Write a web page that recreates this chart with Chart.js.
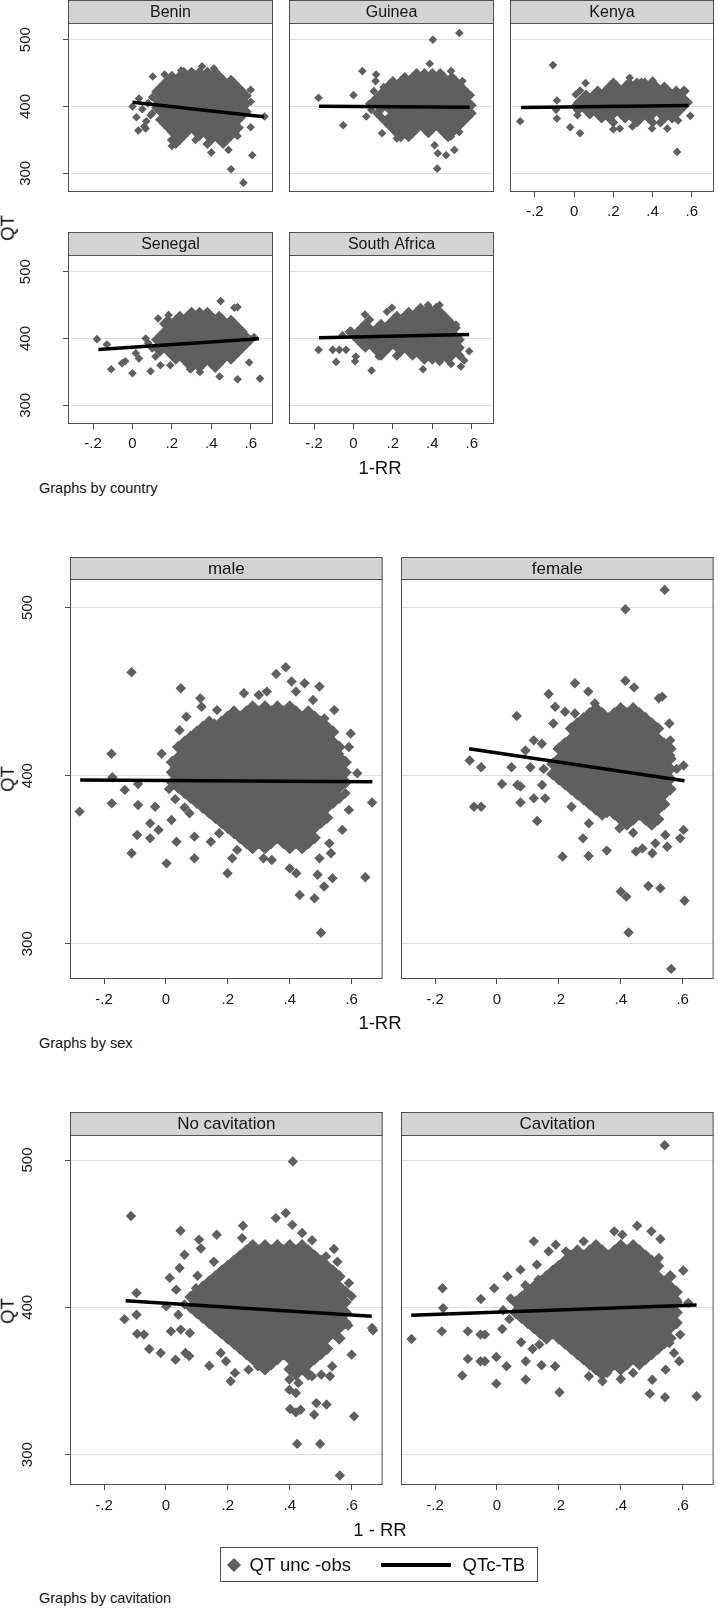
<!DOCTYPE html>
<html>
<head>
<meta charset="utf-8">
<title>QT against 1-RR</title>
<script src="https://cdn.jsdelivr.net/npm/chart.js@4.4.1/dist/chart.umd.min.js"></script>
<style>
  html, body { margin: 0; padding: 0; background: #fff; }
  #page { position: relative; width: 718px; height: 1608px; overflow: hidden; font-family: "Liberation Sans", Arial, sans-serif; color: #111; }
  #page canvas { position: absolute; }
  .txt { position: absolute; white-space: nowrap; line-height: 1; }
</style>
</head>
<body>
<div id="page"></div>
<script>
// Axis ticks
const xTickValues = [-0.2, 0, 0.2, 0.4, 0.6];
const xTickLabels = ["-.2", "0", ".2", ".4", ".6"];
const yTickValues = [300, 400, 500];
const yTickLabels = ["300", "400", "500"];

// Panel titles
const countryNames = ["Benin", "Guinea", "Kenya", "Senegal", "South Africa"];
const sexNames = ["male", "female"];
const cavitationNames = ["No cavitation", "Cavitation"];

// ---- QT unc -obs points ----
// dense cloud as rows: [QT, [1-RR values]]; loose points as [1-RR, QT]

const beninCore = [
  [452, [.26, .30, .34, .38, .42]],
  [446, [.20, .24, .28, .32, .36, .40, .44]],
  [440, [.18, .22, .26, .30, .34, .38, .42, .46, .50]],
  [434, [.16, .20, .24, .28, .32, .36, .40, .44, .48, .52]],
  [428, [.14, .18, .22, .26, .30, .34, .38, .42, .46, .50, .54]],
  [422, [.12, .16, .20, .24, .28, .32, .36, .40, .44, .48, .52, .56]],
  [416, [.14, .18, .22, .26, .30, .34, .38, .42, .46, .50, .54, .58]],
  [410, [.12, .16, .20, .24, .28, .32, .36, .40, .44, .48, .52, .56]],
  [404, [.14, .18, .22, .26, .30, .34, .38, .42, .46, .50, .54, .58]],
  [398, [.12, .16, .20, .24, .28, .32, .36, .40, .44, .48, .52, .56]],
  [392, [.14, .18, .22, .26, .30, .34, .38, .42, .46, .50, .54, .58]],
  [386, [.16, .20, .24, .28, .32, .36, .40, .44, .48, .52, .56]],
  [380, [.14, .18, .22, .26, .30, .34, .38, .42, .46, .50, .54]],
  [374, [.16, .20, .24, .28, .32, .36, .40, .44, .48, .52]],
  [368, [.18, .22, .26, .30, .34, .38, .42, .46, .50, .54]],
  [362, [.20, .24, .28, .32, .36, .40, .44, .48, .52]],
  [356, [.22, .26, .34, .38, .42, .46, .50]],
  [350, [.20, .24, .40, .44, .48]],
  [344, [.22, .38, .46]],
];
const beninSpread = [
  [0, 400], [.02, 384], [.033, 412], [.03, 364], [.067, 367], [.103, 445], [.163, 448], [.1, 414],
  [.092, 387], [.15, 424], [.2, 341], [.247, 454], [.353, 460], [.413, 457], [.425, 442], [.508, 435],
  [.6, 425], [.6, 407], [.6, 369], [.67, 385], [.608, 327], [.4, 331], [.487, 335], [.5, 306],
  [.563, 286], [.32, 350], [.533, 356], [.05, 396], [.08, 405], [.1, 390], [.07, 378], [.06, 370],
];
const beninFit = [[0, 406.5], [.667, 384.6]];

const guineaCore = [
  [450, [.32, .36, .40, .44]],
  [444, [.26, .30, .34, .38, .42, .46, .50]],
  [438, [.20, .24, .28, .32, .36, .40, .44, .48, .52]],
  [432, [.18, .22, .26, .30, .34, .38, .42, .46, .50, .54]],
  [426, [.16, .20, .24, .28, .32, .36, .40, .44, .48, .52, .56]],
  [420, [.14, .18, .22, .26, .30, .34, .38, .42, .46, .50, .54, .58]],
  [414, [.12, .16, .20, .24, .28, .32, .36, .40, .44, .48, .52, .56]],
  [408, [.10, .14, .18, .22, .26, .30, .34, .38, .42, .46, .50, .54, .58]],
  [402, [.12, .16, .20, .24, .28, .32, .36, .40, .44, .48, .52, .56, .60]],
  [396, [.14, .18, .22, .26, .30, .34, .38, .42, .46, .50, .54, .58]],
  [390, [.12, .20, .24, .28, .32, .36, .40, .44, .48, .52, .56, .60]],
  [384, [.14, .18, .22, .26, .30, .34, .38, .42, .46, .50, .54, .58]],
  [378, [.16, .20, .24, .28, .32, .36, .40, .44, .48, .52, .56]],
  [372, [.18, .22, .26, .30, .34, .38, .42, .46, .50, .54]],
  [366, [.20, .24, .28, .32, .36, .40, .44, .48, .52]],
  [360, [.22, .26, .30, .38, .46, .50]],
  [354, [.24, .28, .48]],
];
const guineaSpread = [
  [-.177, 413], [0, 417], [-.052, 372], [.045, 453], [.115, 448], [.112, 438], [.103, 423], [.065, 385],
  [.145, 360], [.153, 429], [.403, 500], [.537, 510], [.387, 464], [.495, 453], [.553, 438], [.595, 417],
  [.587, 394], [.412, 342], [.428, 330], [.47, 327], [.512, 335], [.425, 307], [.22, 352], [.262, 360],
  [.495, 355], [.537, 362], [.08, 404], [.09, 395],
];
const guineaFit = [[-.175, 400.5], [.59, 399]];

const kenyaCore = [
  [436, [.20, .28, .32, .36, .40]],
  [430, [.18, .22, .26, .30, .34, .38, .42, .46]],
  [424, [.12, .16, .20, .24, .28, .32, .36, .40, .44, .48, .52, .56]],
  [418, [.06, .10, .14, .18, .22, .26, .30, .34, .38, .42, .46, .50, .54]],
  [412, [.04, .08, .12, .16, .20, .24, .28, .32, .36, .40, .44, .48, .52, .56]],
  [406, [.02, .06, .10, .14, .18, .22, .26, .30, .34, .38, .42, .46, .50, .54, .58]],
  [400, [.04, .08, .12, .16, .20, .24, .28, .32, .36, .40, .44, .48, .52, .56]],
  [394, [.02, .06, .10, .14, .18, .22, .26, .30, .34, .38, .42, .46, .50, .54]],
  [388, [.08, .12, .16, .20, .24, .28, .32, .36, .40, .44, .48, .52]],
  [382, [.14, .18, .26, .30, .34, .38, .46, .50]],
  [376, [.20, .32, .40, .44]],
];
const kenyaSpread = [
  [-.275, 378], [-.108, 462], [-.088, 409], [-.088, 382], [-.092, 395], [-.02, 369], [.03, 360], [.058, 435],
  [.03, 424], [.008, 418], [0, 400], [.017, 387], [.2, 366], [.233, 367], [.297, 370], [.283, 443],
  [.397, 367], [.475, 367], [.525, 332], [.592, 386], [.567, 423], [.53, 379], [.342, 437], [.4, 439],
];
const kenyaFit = [[-.27, 398.5], [.583, 401.5]];

const senegalCore = [
  [440, [.30, .34, .38]],
  [434, [.24, .28, .32, .36, .40, .44]],
  [428, [.18, .22, .26, .30, .34, .38, .42, .46, .50]],
  [422, [.16, .20, .24, .28, .32, .36, .40, .44, .48, .52]],
  [416, [.18, .22, .26, .30, .34, .38, .42, .46, .50, .54]],
  [410, [.16, .20, .24, .28, .32, .36, .40, .44, .48, .52, .56]],
  [404, [.14, .18, .22, .26, .30, .34, .38, .42, .46, .50, .54]],
  [398, [.12, .16, .20, .24, .28, .32, .36, .40, .44, .48, .52, .56, .60]],
  [392, [.14, .18, .22, .26, .30, .34, .38, .42, .46, .50, .54, .58]],
  [386, [.12, .16, .20, .24, .28, .32, .36, .40, .44, .48, .52, .56]],
  [380, [.14, .18, .22, .26, .30, .34, .38, .42, .46, .50, .54]],
  [374, [.20, .24, .28, .32, .36, .40, .44, .48, .52]],
  [368, [.22, .26, .30, .34, .38, .42, .46, .50]],
  [362, [.28, .32, .36, .40, .44]],
  [356, [.30, .34, .42]],
];
const senegalSpread = [
  [-.18, 399], [-.13, 391], [-.108, 354], [-.053, 363], [-.037, 366], [0, 348], [.017, 378], [.033, 370],
  [.067, 400], [.092, 351], [.13, 430], [.117, 373], [.142, 360], [.183, 435], [.192, 360], [.292, 354],
  [.342, 350], [.447, 456], [.517, 446], [.533, 447], [.442, 343], [.533, 339], [.592, 364], [.647, 340],
  [.617, 402], [.575, 405], [.08, 393], [.1, 385],
];
const senegalFit = [[-.173, 383.5], [.642, 399.5]];

const southAfricaCore = [
  [446, [.34, .38, .42]],
  [440, [.28, .32, .36, .40, .44]],
  [434, [.22, .26, .30, .34, .38, .42, .46]],
  [428, [.08, .20, .24, .28, .32, .36, .40, .44, .48]],
  [422, [.06, .14, .18, .22, .26, .30, .34, .38, .42, .46, .50]],
  [416, [.04, .08, .12, .16, .20, .24, .28, .32, .36, .40, .44, .48, .52]],
  [410, [-.02, .02, .06, .10, .14, .18, .22, .26, .30, .34, .38, .42, .46, .50]],
  [404, [.00, .04, .08, .12, .16, .20, .24, .28, .32, .36, .40, .44, .48, .52]],
  [398, [.02, .06, .10, .14, .18, .22, .26, .30, .34, .38, .42, .46, .50, .54]],
  [392, [.04, .08, .12, .16, .20, .24, .28, .32, .36, .40, .44, .48, .52]],
  [386, [.06, .10, .14, .18, .22, .26, .30, .34, .38, .42, .46, .50, .54]],
  [380, [.12, .16, .24, .28, .32, .36, .40, .44, .48, .52]],
  [374, [.14, .22, .30, .34, .38, .42, .46, .50, .54]],
  [368, [.36, .40, .44, .48]],
];
const southAfricaSpread = [
  [-.177, 383], [-.088, 365], [-.105, 383], [-.072, 383], [-.038, 383], [-.055, 405], [-.013, 412], [.008, 366],
  [.012, 373], [.058, 436], [.092, 352], [.128, 373], [.17, 440], [.195, 446], [.353, 354], [.437, 450],
  [.378, 450], [.52, 421], [.587, 381], [.545, 358], [.562, 367], [.495, 362], [.437, 365],
];
const southAfricaFit = [[-.175, 401], [.587, 406]];

const maleCore = [
  [441, [.28, .32, .36, .40]],
  [438, [.22, .26, .30, .34, .38, .42, .46]],
  [435, [.20, .24, .28, .32, .36, .40, .44, .48]],
  [432, [.14, .18, .22, .26, .30, .34, .38, .42, .46, .50]],
  [429, [.12, .16, .20, .24, .28, .32, .36, .40, .44, .48, .52]],
  [426, [.10, .14, .18, .22, .26, .30, .34, .38, .42, .46, .50, .54]],
  [423, [.08, .12, .16, .20, .24, .28, .32, .36, .40, .44, .48, .52]],
  [420, [.06, .10, .14, .18, .22, .26, .30, .34, .38, .42, .46, .50, .54]],
  [417, [.04, .08, .12, .16, .20, .24, .28, .32, .36, .40, .44, .48, .52, .56]],
  [414, [.06, .10, .14, .18, .22, .26, .30, .34, .38, .42, .46, .50, .54]],
  [411, [.04, .08, .12, .16, .20, .24, .28, .32, .36, .40, .44, .48, .52, .56]],
  [408, [.02, .06, .10, .14, .18, .22, .26, .30, .34, .38, .42, .46, .50, .54, .58]],
  [405, [.04, .08, .12, .16, .20, .24, .28, .32, .36, .40, .44, .48, .52, .56]],
  [402, [.02, .06, .10, .14, .18, .22, .26, .30, .34, .38, .42, .46, .50, .54, .58]],
  [399, [.04, .08, .12, .16, .20, .24, .28, .32, .36, .40, .44, .48, .52, .56]],
  [396, [.02, .06, .10, .14, .18, .22, .26, .30, .34, .38, .42, .46, .50, .54, .58]],
  [393, [.04, .08, .12, .16, .20, .24, .28, .32, .36, .40, .44, .48, .52, .56]],
  [390, [.06, .10, .14, .18, .22, .26, .30, .34, .38, .42, .46, .50, .54]],
  [387, [.08, .12, .16, .20, .24, .28, .32, .36, .40, .44, .48, .52, .56]],
  [384, [.10, .14, .18, .22, .26, .30, .34, .38, .42, .46, .50, .54]],
  [381, [.12, .16, .20, .24, .28, .32, .36, .40, .44, .48, .52]],
  [378, [.14, .18, .22, .26, .30, .34, .38, .42, .46, .50]],
  [375, [.16, .20, .24, .28, .32, .36, .40, .44, .48, .52]],
  [372, [.18, .22, .26, .30, .34, .38, .42, .46, .50]],
  [369, [.20, .24, .28, .32, .36, .40, .44, .48]],
  [366, [.22, .26, .30, .34, .38, .42, .46]],
  [363, [.24, .28, .32, .36, .40, .44, .48]],
  [360, [.26, .30, .34, .38, .42, .46]],
  [357, [.28, .32, .40, .44]],
];
const maleSpread = [
  [-.111, 461.5], [-.176, 413], [.048, 452], [.111, 446], [.115, 441], [.165, 439], [.066, 435], [.044, 427],
  [.252, 449], [.246, 435], [.387, 464.5], [.356, 460.5], [.406, 456], [.448, 455], [.496, 453], [.544, 439],
  [.512, 434], [.597, 425], [.591, 417], [.559, 413], [.538, 420], [-.014, 413], [.029, 405], [.103, 412],
  [.156, 431], [.2, 421], [.3, 448], [.326, 450], [.42, 450], [.475, 445], [-.173, 399],
  [-.279, 378.6], [-.175, 383.5], [-.133, 391.5], [-.09, 395], [-.09, 382.5], [-.035, 381.5], [-.051, 371.6],
  [-.093, 364.7], [-.051, 362.7], [-.024, 367.7], [-.111, 353.8], [.002, 347.8], [.018, 373.6], [.034, 360.7],
  [.092, 350.8], [.076, 377.6], [.092, 363.7], [.145, 360.7], [.199, 341.9], [.214, 350.8], [.23, 355.8],
  [.315, 350.8], [.342, 349.8], [.4, 344.8], [.421, 341.9], [.432, 329], [.48, 327], [.49, 341], [.511, 334],
  [.538, 339], [.501, 306.5], [.644, 339.5], [.666, 384], [.591, 379.6], [.57, 367.7], [.533, 353.8],
  [.528, 359.7], [.496, 350.8], [.618, 401.4], [.58, 389.5], [.172, 365.7], [.273, 357.7],
  [.03, 386], [.06, 381], [.01, 392],
];
const maleFit = [[-.277, 397.4], [.667, 396.4]];

const femaleCore = [
  [440, [.32, .40, .44]],
  [437, [.30, .34, .38, .42, .46]],
  [434, [.28, .32, .36, .40, .44, .48]],
  [431, [.26, .30, .34, .38, .42, .46, .50]],
  [428, [.24, .28, .32, .36, .40, .44, .48, .52]],
  [425, [.26, .30, .34, .38, .42, .46, .50]],
  [422, [.24, .28, .32, .36, .40, .44, .48, .52]],
  [419, [.22, .26, .30, .34, .38, .42, .46, .50, .54]],
  [416, [.20, .24, .28, .32, .36, .40, .44, .48, .52, .56]],
  [413, [.22, .26, .30, .34, .38, .42, .46, .50, .54]],
  [410, [.20, .24, .28, .32, .36, .40, .44, .48, .52, .56]],
  [407, [.18, .22, .26, .30, .34, .38, .42, .46, .50, .54]],
  [404, [.20, .24, .28, .32, .36, .40, .44, .48, .52, .56]],
  [401, [.18, .22, .26, .30, .34, .38, .42, .46, .50, .54]],
  [398, [.20, .24, .28, .32, .36, .40, .44, .48, .52, .56]],
  [395, [.22, .26, .30, .34, .38, .42, .46, .50, .54]],
  [392, [.24, .28, .32, .36, .40, .44, .48, .52, .56]],
  [389, [.26, .30, .34, .38, .42, .46, .50, .54]],
  [386, [.28, .32, .36, .40, .44, .48, .52]],
  [383, [.30, .34, .38, .42, .46, .50, .54]],
  [380, [.32, .36, .40, .44, .48, .52]],
  [377, [.34, .38, .42, .46, .50]],
  [374, [.40, .44, .48, .52]],
  [371, [.42, .50]],
];
const femaleSpread = [
  [.542, 510.5], [.415, 499], [.252, 455], [.295, 450], [.415, 456.5], [.443, 452.5], [.167, 448.6], [.064, 435.5],
  [.188, 441], [.22, 438], [.252, 437], [.316, 443], [.523, 446], [.534, 447], [.557, 431], [.56, 421],
  [.56, 412], [.603, 406], [.581, 404], [-.088, 409], [-.051, 405], [.047, 405], [.092, 415], [.119, 421],
  [.145, 419], [.182, 431], [.215, 419], [.108, 405], [.151, 404], [.016, 395],
  [.066, 394.4], [.076, 393.5], [.146, 394.4], [-.074, 381.5], [-.051, 381.5], [.076, 384], [.119, 386.5],
  [.156, 386.5], [.13, 373], [.241, 381.5], [.278, 362.7], [.212, 351.8], [.296, 352.2], [.355, 355.4],
  [.355, 377.6], [.396, 368.7], [.44, 366], [.449, 354.8], [.47, 356.7], [.502, 353.8], [.512, 359.7],
  [.55, 357.7], [.592, 362.7], [.603, 367.7], [.544, 364.7], [.4, 331], [.418, 328], [.489, 334.3],
  [.528, 333], [.606, 325.6], [.425, 306.7], [.563, 285], [.297, 371.6],
];
const femaleFit = [[-.09, 416], [.606, 397]];

const noCavCore = [
  [442, [.28, .32, .36, .40, .44]],
  [438.5, [.26, .30, .34, .38, .42, .46]],
  [435, [.24, .28, .32, .36, .40, .44, .48]],
  [431.5, [.22, .26, .30, .34, .38, .42, .46, .50]],
  [428, [.20, .24, .28, .32, .36, .40, .44, .48, .52]],
  [424.5, [.18, .22, .26, .30, .34, .38, .42, .46, .50, .54]],
  [421, [.16, .20, .24, .28, .32, .36, .40, .44, .48, .52, .56]],
  [417.5, [.14, .18, .22, .26, .30, .34, .38, .42, .46, .50, .54]],
  [414, [.12, .16, .20, .24, .28, .32, .36, .40, .44, .48, .52, .56]],
  [410.5, [.10, .14, .18, .22, .26, .30, .34, .38, .42, .46, .50, .54, .58]],
  [407, [.08, .12, .16, .20, .24, .28, .32, .36, .40, .44, .48, .52, .56]],
  [403.5, [.10, .14, .18, .22, .26, .30, .34, .38, .42, .46, .50, .54, .58]],
  [400, [.08, .12, .16, .20, .24, .28, .32, .36, .40, .44, .48, .52, .56]],
  [396.5, [.10, .14, .18, .22, .26, .30, .34, .38, .42, .46, .50, .54, .58]],
  [393, [.12, .16, .20, .24, .28, .32, .36, .40, .44, .48, .52, .56]],
  [389.5, [.14, .18, .22, .26, .30, .34, .38, .42, .46, .50, .54, .58]],
  [386, [.16, .20, .24, .28, .32, .36, .40, .44, .48, .52, .56]],
  [382.5, [.18, .22, .26, .30, .34, .38, .42, .46, .50, .54]],
  [379, [.20, .24, .28, .32, .36, .40, .44, .48, .52, .56]],
  [375.5, [.22, .26, .30, .34, .38, .42, .46, .50]],
  [372, [.24, .28, .32, .36, .40, .44, .48, .52]],
  [368.5, [.26, .30, .34, .38, .42, .46, .50]],
  [365, [.28, .32, .36, .40, .44, .48]],
  [361.5, [.30, .34, .42, .46]],
  [358, [.32, .40, .44]],
  [354.5, [.42, .46]],
];
const noCavSpread = [
  [.41, 499], [-.113, 462], [.387, 464], [.355, 460.6], [.408, 456], [.047, 452], [.164, 449.3], [.107, 446],
  [.113, 440], [.249, 455.4], [.246, 447], [.44, 450.5], [.472, 445.5], [.543, 439.6], [.517, 434.6], [.554, 431],
  [.06, 435.7], [.155, 431], [.044, 426.7], [.012, 420], [.102, 421.5], [.097, 413], [.033, 412], [-.095, 409.7],
  [.001, 400.7], [-.134, 392], [-.095, 395], [.591, 416.5], [.6, 407.5], [.57, 404], [.666, 386], [.182, 425.6],
  [.145, 418.8], [-.093, 382], [-.071, 381.5], [-.054, 371.7], [-.017, 369], [.031, 364.5], [.063, 369],
  [.075, 367], [.016, 383.7], [.048, 384.9], [.077, 382.6], [.14, 360.4], [.177, 369], [.194, 363.4],
  [.209, 349.8], [.223, 355.5], [.267, 357.7], [.297, 360], [.399, 351], [.399, 344], [.42, 341.9],
  [.428, 348.7], [.401, 331], [.42, 328.7], [.435, 330.5], [.486, 335], [.519, 334], [.479, 327.2],
  [.608, 326], [.424, 307.3], [.498, 307.3], [.562, 285.8], [.6, 367.9], [.669, 384.4], [.537, 360],
  [.53, 353.2], [.502, 354.3], [.472, 353.2], [.589, 387.6], [.04, 395], [.06, 402],
];
const noCavFit = [[-.13, 404.5], [.665, 394]];

const cavCore = [
  [442, [.32, .40, .44]],
  [438.5, [.26, .30, .34, .38, .42, .46]],
  [435, [.24, .28, .32, .36, .40, .44, .48]],
  [431.5, [.22, .26, .30, .34, .38, .42, .46, .50]],
  [428, [.20, .24, .28, .32, .36, .40, .44, .48, .52]],
  [424.5, [.18, .22, .26, .30, .34, .38, .42, .46, .50]],
  [421, [.16, .20, .24, .28, .32, .36, .40, .44, .48, .52, .56]],
  [417.5, [.14, .18, .22, .26, .30, .34, .38, .42, .46, .50, .54]],
  [414, [.12, .16, .20, .24, .28, .32, .36, .40, .44, .48, .52, .56]],
  [410.5, [.10, .14, .18, .22, .26, .30, .34, .38, .42, .46, .50, .54, .58]],
  [407, [.08, .12, .16, .20, .24, .28, .32, .36, .40, .44, .48, .52, .56]],
  [403.5, [.06, .10, .14, .18, .22, .26, .30, .34, .38, .42, .46, .50, .54, .58]],
  [400, [.08, .12, .16, .20, .24, .28, .32, .36, .40, .44, .48, .52, .56]],
  [396.5, [.06, .10, .14, .18, .22, .26, .30, .34, .38, .42, .46, .50, .54, .58]],
  [393, [.08, .12, .16, .20, .24, .28, .32, .36, .40, .44, .48, .52, .56]],
  [389.5, [.10, .14, .18, .22, .26, .30, .34, .38, .42, .46, .50, .54, .58]],
  [386, [.12, .16, .20, .24, .28, .32, .36, .40, .44, .48, .52, .56]],
  [382.5, [.14, .18, .22, .26, .30, .34, .38, .42, .46, .50, .54]],
  [379, [.16, .20, .24, .28, .32, .36, .40, .44, .48, .52, .56]],
  [375.5, [.22, .26, .30, .34, .38, .42, .46, .50, .54]],
  [372, [.24, .28, .32, .36, .40, .44, .48, .52]],
  [368.5, [.26, .30, .34, .38, .42, .46, .50]],
  [365, [.28, .32, .36, .40, .44, .48]],
  [361.5, [.30, .34, .38, .42, .46]],
  [358, [.32, .36, .40]],
  [354.5, [.34]],
];
const cavSpread = [
  [.542, 510], [.119, 444.8], [.19, 442.5], [.223, 438], [.167, 438], [.28, 444.8], [.379, 451.6], [.405, 449.3],
  [.453, 455.4], [.499, 451.6], [.528, 446.4], [.523, 433.5], [.602, 425], [.464, 434.6], [.076, 425.6], [.034, 421],
  [-.009, 413], [-.052, 405.7], [-.176, 413], [-.174, 399.5], [.044, 406], [.092, 415], [.134, 418.8], [.129, 429],
  [.172, 422], [.581, 405], [.618, 403],
  [-.276, 378.5], [-.178, 383.7], [-.094, 383.7], [-.053, 381.5], [-.039, 381.5], [.017, 385.3], [.078, 376.3],
  [-.112, 353.7], [-.094, 365], [-.053, 363.4], [-.039, 363.4], [-.002, 348.2], [-.002, 366.3], [.031, 360],
  [.093, 363.4], [.093, 351], [.144, 360.7], [.188, 360], [.202, 342.4], [.115, 371.7], [.137, 374.7],
  [.297, 353.2], [.341, 349.8], [.356, 355.5], [.4, 351.4], [.44, 355.5], [.494, 341.4], [.543, 339],
  [.645, 339.6], [.502, 350.9], [.545, 357.7], [.589, 363.4], [.572, 369], [.592, 381.5], [.557, 375.8],
  [.04, 392], [.02, 398],
];
const cavFit = [[-.277, 394.6], [.645, 401.6]];

// ---- styling ----
const MARKER = "#5f5f5f";
const FRAME = "#505050";
const STRIP = "#d3d3d3";
const GRID = "#dfdfdf";
const TEXT = "#161616";
const FONT = '"Liberation Sans", Arial, Helvetica, sans-serif';

const page = document.getElementById("page");

// group geometry (pixels) and axis ranges; coreR is a touch larger so the dense cloud closes up
const groups = {
  country: { headerH: 23, plotH: 169, xMin: -0.327, xMax: 0.713, yMin: 272, yMax: 525, r: 4.3, coreR: 5, titleSize: 16, tickPad: 6 },
  sex: { headerH: 22, plotH: 400, xMin: -0.31, xMax: 0.70, yMin: 279, yMax: 517, r: 5.2, coreR: 6.4, titleSize: 17, tickPad: 7 },
  cav: { headerH: 23, plotH: 350, xMin: -0.31, xMax: 0.70, yMin: 279.4, yMax: 517, r: 5.2, coreR: 6.4, titleSize: 17, tickPad: 7 },
};

function rowsToPoints(rows) {
  const pts = [];
  rows.forEach(([y, xs]) => xs.forEach((x) => pts.push({ x, y })));
  return pts;
}

// header strip, frame and rotated y labels
const panelFrame = {
  id: "panelFrame",
  beforeDraw(chart, args, o) {
    const { ctx, chartArea: a } = chart;
    const top = a.top - o.headerH;
    ctx.save();
    ctx.fillStyle = STRIP;
    ctx.fillRect(a.left, top, a.right - a.left, o.headerH);
    ctx.strokeStyle = FRAME;
    ctx.lineWidth = 1;
    ctx.strokeRect(a.left + 0.5, top + 0.5, a.right - a.left - 1, o.headerH);
    ctx.fillStyle = TEXT;
    ctx.font = o.titleSize + "px " + FONT;
    ctx.textAlign = "center";
    ctx.textBaseline = "middle";
    ctx.fillText(o.title, (a.left + a.right) / 2, top + o.headerH / 2 + 1);
    ctx.restore();
  },
  afterDraw(chart, args, o) {
    const { ctx, chartArea: a } = chart;
    ctx.save();
    ctx.strokeStyle = FRAME;
    ctx.lineWidth = 1;
    ctx.strokeRect(a.left + 0.5, a.top + 0.5, a.right - a.left - 1, a.bottom - a.top - 1);
    if (o.yLabels) {
      ctx.fillStyle = TEXT;
      ctx.font = "15px " + FONT;
      ctx.textAlign = "center";
      ctx.textBaseline = "middle";
      yTickValues.forEach((v, i) => {
        const y = chart.scales.y.getPixelForValue(v);
        ctx.save();
        ctx.translate(a.left - 42, y);
        ctx.rotate(-Math.PI / 2);
        ctx.fillText(yTickLabels[i], 0, 0);
        ctx.restore();
      });
    }
    ctx.restore();
  },
};

function makePanel(g, p) {
  const padL = p.firstCol ? p.left - 10 : 10;
  const padR = 2;
  const padB = 34;
  const w = p.width + padL + padR;
  const h = g.headerH + g.plotH + padB;
  const canvas = document.createElement("canvas");
  canvas.width = w;
  canvas.height = h;
  canvas.style.left = p.left - padL + "px";
  canvas.style.top = p.top + "px";
  canvas.style.width = w + "px";
  canvas.style.height = h + "px";
  page.appendChild(canvas);

  new Chart(canvas, {
    type: "scatter",
    data: {
      datasets: [
        {
          type: "line",
          data: p.fit.map(([x, y]) => ({ x, y })),
          borderColor: "#000",
          borderWidth: 3.5,
          pointRadius: 0,
          fill: false,
          order: 0,
        },
        {
          data: p.spread.map(([x, y]) => ({ x, y })),
          pointStyle: "rectRot",
          pointRadius: g.r,
          backgroundColor: MARKER,
          borderWidth: 0,
          order: 1,
        },
        {
          data: rowsToPoints(p.core),
          pointStyle: "rectRot",
          pointRadius: g.coreR,
          backgroundColor: MARKER,
          borderWidth: 0,
          order: 2,
        },
      ],
    },
    options: {
      responsive: false,
      animation: false,
      events: [],
      layout: { padding: { top: g.headerH, right: padR, left: 0, bottom: 0 } },
      plugins: {
        legend: { display: false },
        tooltip: { enabled: false },
        panelFrame: { title: p.title, headerH: g.headerH, titleSize: g.titleSize, yLabels: p.firstCol },
      },
      scales: {
        x: {
          type: "linear",
          min: g.xMin,
          max: g.xMax,
          afterBuildTicks: (s) => { s.ticks = xTickValues.map((v) => ({ value: v })); },
          afterFit: (s) => { s.height = padB; },
          border: { display: false },
          grid: { display: p.showX, drawOnChartArea: false, drawTicks: true, tickLength: 5, tickColor: FRAME },
          ticks: {
            display: p.showX,
            autoSkip: false,
            maxRotation: 0,
            padding: g.tickPad,
            color: TEXT,
            font: { family: FONT, size: 15 },
            callback: (v, i) => xTickLabels[i],
          },
        },
        y: {
          type: "linear",
          min: g.yMin,
          max: g.yMax,
          afterBuildTicks: (s) => { s.ticks = yTickValues.map((v) => ({ value: v })); },
          afterFit: (s) => { s.width = padL; },
          border: { display: false },
          grid: { color: GRID, lineWidth: 1, drawTicks: p.firstCol, tickLength: 5, tickColor: FRAME },
          ticks: { display: false },
        },
      },
    },
    plugins: [panelFrame],
  });
}

function addText(text, x, y, size, how) {
  const el = document.createElement("div");
  el.className = "txt";
  el.textContent = text;
  el.style.fontSize = size + "px";
  el.style.left = x + "px";
  el.style.top = y + "px";
  if (how === "rotate") el.style.transform = "translate(-50%, -50%) rotate(-90deg)";
  else if (how === "left") el.style.transform = "translateY(-50%)";
  else el.style.transform = "translate(-50%, -50%)";
  page.appendChild(el);
  return el;
}

// ---- graphs by country ----
const G = groups;
makePanel(G.country, { title: countryNames[0], left: 68, top: 0, width: 208, firstCol: true, showX: false, core: beninCore, spread: beninSpread, fit: beninFit });
makePanel(G.country, { title: countryNames[1], left: 289, top: 0, width: 208, firstCol: false, showX: false, core: guineaCore, spread: guineaSpread, fit: guineaFit });
makePanel(G.country, { title: countryNames[2], left: 510, top: 0, width: 207, firstCol: false, showX: true, core: kenyaCore, spread: kenyaSpread, fit: kenyaFit });
makePanel(G.country, { title: countryNames[3], left: 68, top: 232, width: 208, firstCol: true, showX: true, core: senegalCore, spread: senegalSpread, fit: senegalFit });
makePanel(G.country, { title: countryNames[4], left: 289, top: 232, width: 208, firstCol: false, showX: true, core: southAfricaCore, spread: southAfricaSpread, fit: southAfricaFit });
addText("QT", 8, 228, 18.5, "rotate");
addText("1-RR", 380, 468, 18.5);
addText("Graphs by country", 39, 488, 14.5, "left");

// ---- graphs by sex ----
makePanel(G.sex, { title: sexNames[0], left: 70, top: 557, width: 317, firstCol: true, showX: true, core: maleCore, spread: maleSpread, fit: maleFit });
makePanel(G.sex, { title: sexNames[1], left: 401, top: 557, width: 317, firstCol: false, showX: true, core: femaleCore, spread: femaleSpread, fit: femaleFit });
addText("QT", 8, 779, 18.5, "rotate");
addText("1-RR", 380, 1023, 18.5);
addText("Graphs by sex", 39, 1043, 14.5, "left");

// ---- graphs by cavitation ----
makePanel(G.cav, { title: cavitationNames[0], left: 70, top: 1112, width: 317, firstCol: true, showX: true, core: noCavCore, spread: noCavSpread, fit: noCavFit });
makePanel(G.cav, { title: cavitationNames[1], left: 401, top: 1112, width: 317, firstCol: false, showX: true, core: cavCore, spread: cavSpread, fit: cavFit });
addText("QT", 8, 1311, 18.5, "rotate");
addText("1 - RR", 380, 1530, 18.5);
addText("Graphs by cavitation", 39, 1598, 14.5, "left");

// legend
const box = document.createElement("div");
box.style.cssText = "position:absolute;left:220px;top:1547px;width:316px;height:33px;border:1px solid " + FRAME + ";background:#fff;";
page.appendChild(box);
const diamond = document.createElement("div");
diamond.style.cssText = "position:absolute;left:228.5px;top:1560px;width:10px;height:10px;background:" + MARKER + ";transform:rotate(45deg);";
page.appendChild(diamond);
addText("QT unc -obs", 249.5, 1565, 18.5, "left");
const swatch = document.createElement("div");
swatch.style.cssText = "position:absolute;left:381px;top:1563px;width:70px;height:4px;background:#000;";
page.appendChild(swatch);
addText("QTc-TB", 462.5, 1565, 18.5, "left");
</script>
</body>
</html>
